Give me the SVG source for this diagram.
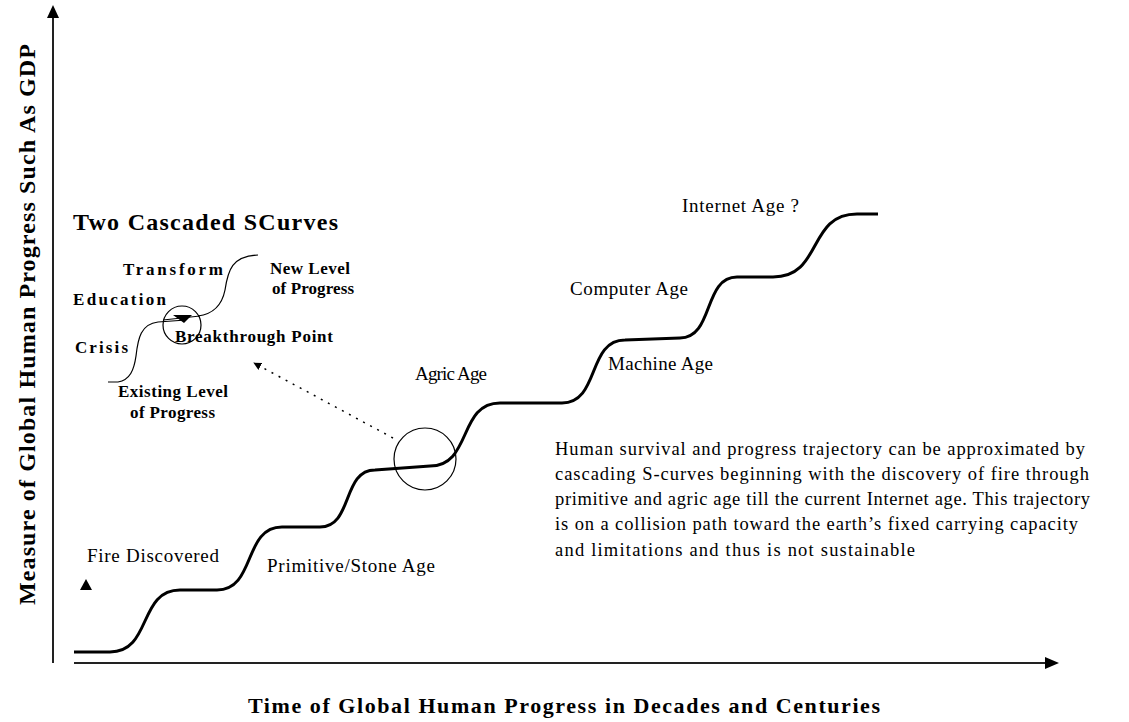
<svg xmlns="http://www.w3.org/2000/svg" width="1129" height="722" viewBox="0 0 1129 722">
<style>
.lbl{font-family:"Liberation Serif","Times New Roman",serif;font-size:19px;fill:#000}
.blbl{font-family:"Liberation Serif","Times New Roman",serif;font-size:17px;font-weight:bold;fill:#000}
.para{font-family:"Liberation Serif","Times New Roman",serif;font-size:18.5px;fill:#000}
.axis{font-family:"Liberation Serif","Times New Roman",serif;font-size:22px;font-weight:bold;fill:#000}
.thin{fill:none;stroke:#000;stroke-width:1.2}
</style>
<defs>
<marker id="dotHead" viewBox="0 0 10 10" refX="9" refY="5" markerWidth="8" markerHeight="8" orient="auto" markerUnits="userSpaceOnUse">
<path d="M0,0 L10,5 L0,10 Z" fill="#000"/>
</marker>
</defs>
<rect width="1129" height="722" fill="#fff"/>

<g id="axes">
<line x1="53" y1="663" x2="53" y2="16" stroke="#222" stroke-width="2"/>
<polygon points="53,5 47,18 59,18" fill="#000"/>
<line x1="74" y1="663" x2="1046" y2="663" stroke="#222" stroke-width="2"/>
<polygon points="1059,663 1045,657 1045,669" fill="#000"/>
</g>

<g id="axis-labels">
<text class="axis" x="248" y="713" textLength="632">Time of Global Human Progress in Decades and Centuries</text>
<text class="axis" style="font-size:24px" transform="translate(35,605) rotate(-90)" x="0" y="0" textLength="561">Measure of Global Human Progress Such As GDP</text>
</g>

<g id="connectors">
<path id="staircase" d="M74,652 L110,652 C152,652 138,590 180,590 L217,590 C256,590 243,527 282,527 L320,527 C353,527 342,470 375,470 L430,466 C472,466 458,403 500,403 L562,403 C600,403 587,340 625,340 L680,338 C714,338 703,277 737,277 L773,277 C823,277 807,214 857,214 L878,214" fill="none" stroke="#000" stroke-width="3" stroke-linejoin="round"/>
<line x1="393" y1="438" x2="254" y2="363" stroke="#000" stroke-width="1.5" stroke-dasharray="2 6" marker-end="url(#dotHead)"/>
</g>

<g id="agric-circle">
<circle cx="425" cy="459" r="31" class="thin"/>
</g>

<g id="inset">
<text class="blbl" x="73" y="230" style="font-size:24px" textLength="265">Two Cascaded SCurves</text>
<path class="thin" d="M108,382 L118,382 C130,380 134,370 136,356 C138,338 141,324 158,322 L186,320"/>
<path class="thin" d="M198,316 C214,314 222,305 225,290 C228,270 232,256 258,255"/>
<circle class="thin" cx="182" cy="325" r="19"/>
<polygon points="173,315 192,315 184,323" fill="#000"/>
<line x1="163" y1="320" x2="200" y2="316" stroke="#000" stroke-width="1"/>
<text class="blbl" x="123" y="275" textLength="100">Transform</text>
<text class="blbl" x="73" y="305" textLength="93">Education</text>
<text class="blbl" x="75" y="353" textLength="53">Crisis</text>
<text class="blbl" x="175" y="342" textLength="158">Breakthrough Point</text>
<text class="blbl" x="270" y="274" textLength="80">New Level</text>
<text class="blbl" x="272" y="294" textLength="82">of Progress</text>
<text class="blbl" x="118" y="397" textLength="110">Existing Level</text>
<text class="blbl" x="130" y="418" textLength="85">of Progress</text>
</g>

<g id="age-labels">
<polygon points="80,590 92,590 86,579" fill="#000"/>
<text class="lbl" x="87" y="562" textLength="132">Fire Discovered</text>
<text class="lbl" x="267" y="572" textLength="168">Primitive/Stone Age</text>
<text class="lbl" x="415" y="380" textLength="72">Agric Age</text>
<text class="lbl" x="608" y="370" textLength="105">Machine Age</text>
<text class="lbl" x="570" y="295" textLength="118">Computer Age</text>
<text class="lbl" x="682" y="212" textLength="117">Internet Age ?</text>
</g>

<g id="description">
<text class="para" x="555" y="455" textLength="530">Human survival and progress trajectory can be approximated by</text>
<text class="para" x="555" y="480" textLength="534">cascading S-curves beginning with the discovery of fire through</text>
<text class="para" x="555" y="505" textLength="535">primitive and agric age  till the current Internet age. This trajectory</text>
<text class="para" x="555" y="530" textLength="523">is on a collision path toward the earth’s fixed carrying capacity</text>
<text class="para" x="555" y="556" textLength="360">and limitations and thus is not  sustainable</text>
</g>
</svg>
